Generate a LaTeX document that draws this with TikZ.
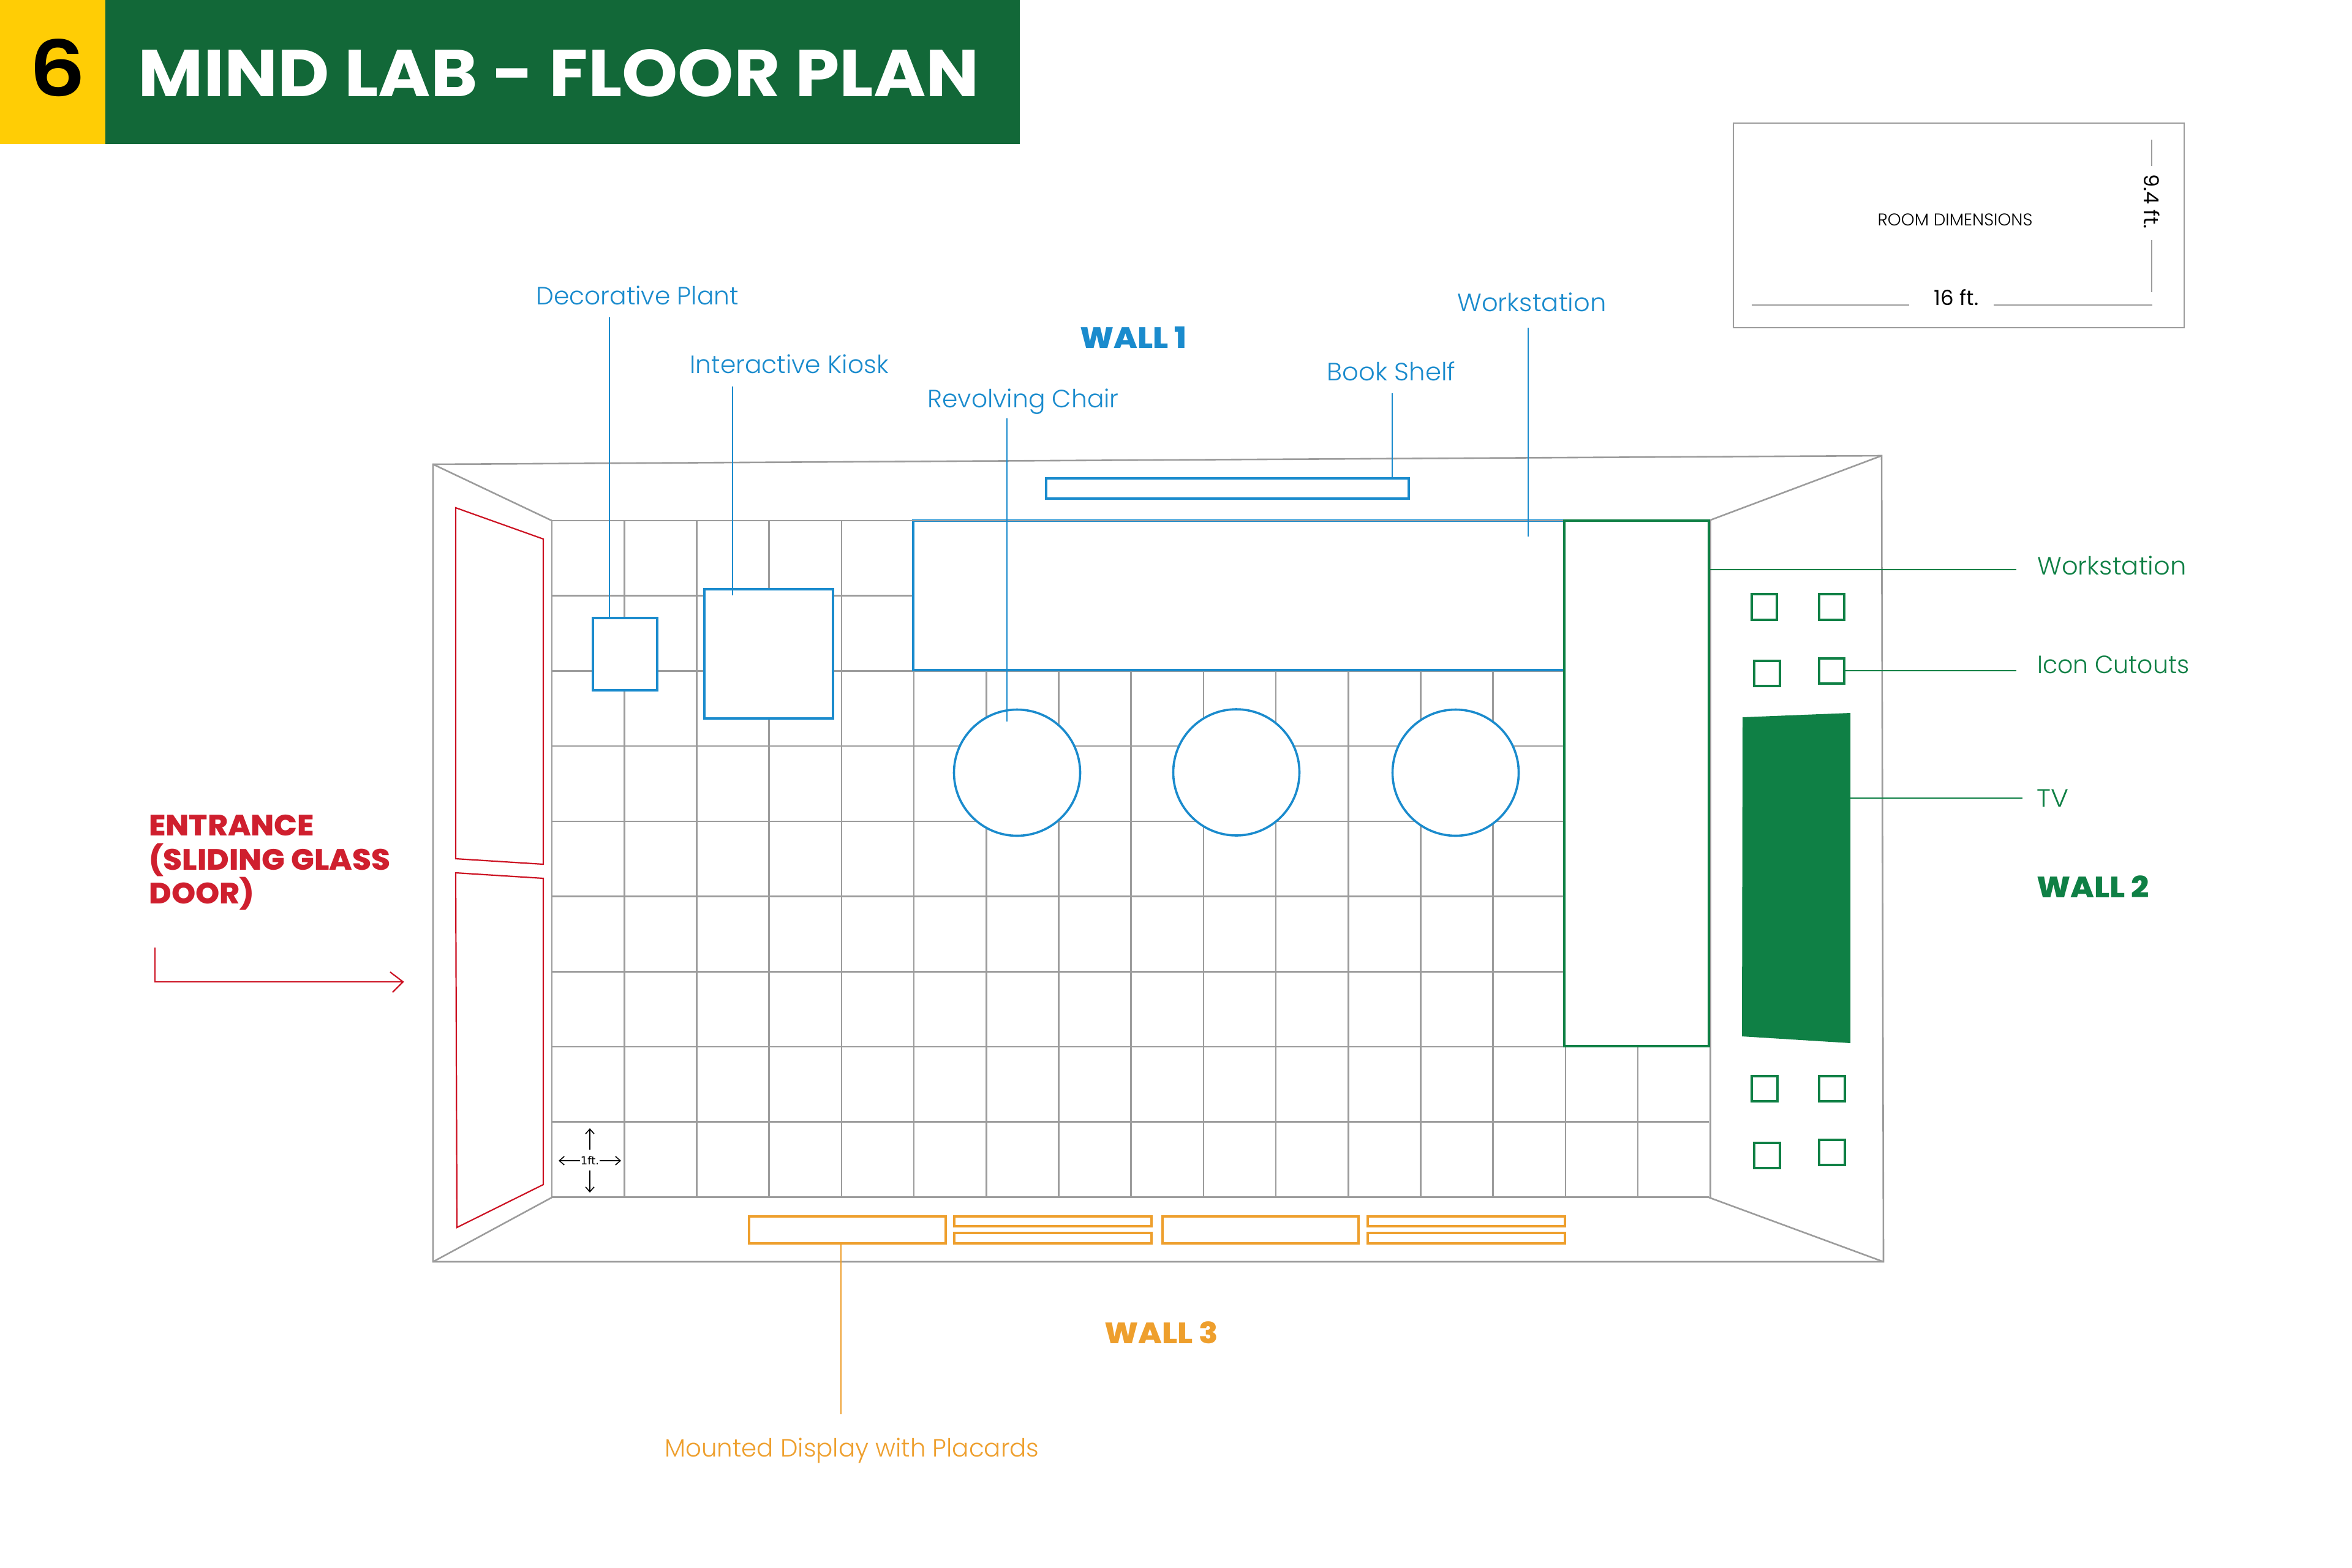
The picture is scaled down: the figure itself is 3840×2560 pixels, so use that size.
\documentclass[tikz,border=0pt]{standalone}
\usepackage{fontspec}
\setmainfont{Poppins}
\newfontfamily\lblfont{Poppins Light}
\newfontfamily\headfont{Poppins}[UprightFont=*-Bold]
\newfontfamily\wallfont{Poppins ExtraBold}
\newfontfamily\sixfont{Poppins SemiBold}
\newfontfamily\tinyfont{DejaVu Sans}
\usetikzlibrary{arrows.meta}
\definecolor{hgreen}{HTML}{126838}
\definecolor{hyellow}{HTML}{FFCD05}
\definecolor{pblue}{HTML}{1A8BCD}
\definecolor{pgreen}{HTML}{0F8045}
\definecolor{porange}{HTML}{EE9F2D}
\definecolor{pred}{HTML}{CF1F2E}
\definecolor{doorred}{HTML}{CC1122}
\definecolor{pgrey}{HTML}{9C9C9C}
\tikzset{
  room/.style={draw=pgrey,line width=1.3pt,line join=miter},
  gridln/.style={draw=pgrey,line width=1.3pt},
  bluebox/.style={draw=pblue,line width=1.9pt,fill=white},
  bluelead/.style={draw=pblue,line width=0.7pt},
  greenbox/.style={draw=pgreen,line width=1.9pt,fill=white},
  greenlead/.style={draw=pgreen,line width=0.8pt},
  orangebox/.style={draw=porange,line width=1.9pt,fill=white},
  orangelead/.style={draw=porange,line width=0.7pt},
  doorbox/.style={draw=doorred,line width=1.1pt},
  chairnode/.style={circle,draw=pblue,line width=1.8pt,fill=white,minimum size=103pt,inner sep=0pt},
  lbl/.style={inner sep=0pt,anchor=base west,font=\lblfont\fontsize{20.4}{20.4}\selectfont},
  wallbl/.style={inner sep=0pt,anchor=base west,font=\wallfont\fontsize{24}{24}\selectfont,xscale=1.07},
  entlbl/.style={inner sep=0pt,anchor=base west,font=\wallfont\fontsize{24}{24}\selectfont,xscale=1.04},
  dimtxt/.style={inner sep=0pt,anchor=base,text=black},
  onearrow/.style={draw=black,line width=0.8pt,-{Straight Barb[length=4pt,width=7pt]}}
}
\begin{document}
\begin{tikzpicture}[x=0.5pt,y=-0.5pt]
\useasboundingbox[fill=white] (0,0) rectangle (3840,2560);
% header
\fill[hyellow] (0,0) rectangle (172,235);
\fill[hgreen] (172,0) rectangle (1665,235);
\node[inner sep=0pt,anchor=base,font=\sixfont\fontsize{63}{63}\selectfont,text=black,xscale=1.15] (six) at (94,157) {6};
\node[inner sep=0pt,anchor=base west,font=\headfont\fontsize{54}{54}\selectfont,text=white,xscale=1.075] (title) at (225,157) {MIND LAB - FLOOR PLAN};
% dimensions box
\draw[room] (2830,201) rectangle (3566,535);
\draw[room] (3513,228) -- (3513,271) (3513,392) -- (3513,477);
\draw[room] (2860,498) -- (3117,498) (3255,498) -- (3514,498);
\node[dimtxt,font=\lblfont\fontsize{13.9}{13.9}\selectfont] (roomdim) at (3192,368) {ROOM DIMENSIONS};
\node[dimtxt,font=\fontsize{17}{17}\selectfont] (sixteen) at (3194,498) {16 ft.};
\node[inner sep=0pt,anchor=base,rotate=-90,font=\fontsize{16.8}{16.8}\selectfont] (ninefour) at (3500,329) {9.4 ft.};
% room shell
\draw[room] (707,758) -- (3072,744) -- (3075,2060) -- (707,2060) -- cycle;
\draw[room] (707,758) -- (901,850) (3072,744) -- (2790,850) (3075,2060) -- (2790,1955) (707,2060) -- (901,1955);
% grid
\foreach \k in {0,...,16}{\draw[gridln] ({901+118.2*\k},850) -- ({901+118.2*\k},1955);}
\foreach \k in {0,...,9}{\draw[gridln] (901,{850+122.7*\k}) -- (2790,{850+122.7*\k});}
% doors
\draw[doorbox] (744,829) -- (887,880) -- (887,1411) -- (744,1402) -- cycle;
\draw[doorbox] (744,1425) -- (887,1434) -- (887,1934) -- (746,2004) -- cycle;
% wall 1 items
\draw[bluebox] (1491,850) rectangle (2554,1094);
\draw[bluebox] (1708,781) rectangle (2300,814);
\draw[bluebox] (968,1009) rectangle (1073,1127);
\draw[bluebox] (1150,962) rectangle (1360,1173);
\node[chairnode] (c1) at (1660.5,1261.5) {};
\node[chairnode] (c2) at (2018.5,1261) {};
\node[chairnode] (c3) at (2376.5,1261.5) {};
\draw[room] (901,850) -- (2554,850);
% wall 2 items
\draw[greenbox] (2554,850) rectangle (2790,1708);
\draw[greenbox] (2860,970) rectangle (2901,1012);
\draw[greenbox] (2970,970) rectangle (3011,1012);
\draw[greenbox] (2864,1079) rectangle (2906,1120);
\draw[greenbox] (2970,1075) rectangle (3011,1116);
\draw[greenbox] (2860,1757) rectangle (2902,1798);
\draw[greenbox] (2970,1757) rectangle (3012,1798);
\draw[greenbox] (2864,1866) rectangle (2906,1907);
\draw[greenbox] (2970,1861) rectangle (3012,1902);
\fill[pgreen] (2845,1171) -- (3021,1164) -- (3021,1703) -- (2844,1692) -- cycle;
% wall 3 items
\draw[orangebox] (1223,1986) rectangle (1544,2030);
\draw[orangebox] (1558,1986) rectangle (1880,2002);
\draw[orangebox] (1558,2013) rectangle (1880,2030);
\draw[orangebox] (1898,1986) rectangle (2218,2030);
\draw[orangebox] (2233,1986) rectangle (2555,2002);
\draw[orangebox] (2233,2013) rectangle (2555,2030);
% labels
\node[lbl,text=pblue] (plant) at (875,497) {Decorative Plant};
\node[lbl,text=pblue] (kiosk) at (1126,609) {Interactive Kiosk};
\node[lbl,text=pblue] (chair) at (1514,665) {Revolving Chair};
\node[lbl,text=pblue,xscale=1.025] (shelf) at (2166,621) {Book Shelf};
\node[lbl,text=pblue,xscale=1.02] (ws1) at (2379,508) {Workstation};
\node[wallbl,text=pblue] (wall1) at (1763,568) {WALL 1};
\node[lbl,text=pgreen,xscale=1.02] (ws2) at (3326,938) {Workstation};
\node[lbl,text=pgreen,xscale=0.965] (icons) at (3326,1099) {Icon Cutouts};
\node[lbl,text=pgreen,xscale=1.08] (tv) at (3325,1317) {TV};
\node[wallbl,text=pgreen] (wall2) at (3325,1465) {WALL 2};
\node[wallbl,text=porange] (wall3) at (1803,2193) {WALL 3};
\node[lbl,text=porange,xscale=0.99] (mount) at (1085,2378) {Mounted Display with Placards};
\node[entlbl,text=pred] (ent1) at (243,1364) {ENTRANCE};
\node[entlbl,text=pred] (ent2) at (243,1420) {(SLIDING GLASS};
\node[entlbl,text=pred] (ent3) at (243,1475) {DOOR)};
% leaders
\coordinate (a1) at (995,518); \coordinate (a2) at (995,1009);
\coordinate (b1) at (1196,631); \coordinate (b2) at (1196,972);
\coordinate (d1) at (1644,683); \coordinate (d2) at (1644,1178);
\coordinate (e1) at (2273,642); \coordinate (e2) at (2273,781);
\coordinate (f1) at (2495,535); \coordinate (f2) at (2495,876);
\coordinate (g1) at (2792,930); \coordinate (g2) at (3292,930);
\coordinate (h1) at (3011,1095); \coordinate (h2) at (3292,1095);
\coordinate (i1) at (3021,1303); \coordinate (i2) at (3302,1303);
\coordinate (j1) at (1373,2030); \coordinate (j2) at (1373,2309);
\draw[bluelead] (a1) -- (a2) (b1) -- (b2) (d1) -- (d2) (e1) -- (e2) (f1) -- (f2);
\draw[greenlead] (g1) -- (g2) (h1) -- (h2) (i1) -- (i2);
\draw[orangelead] (j1) -- (j2);
% entrance arrow
\coordinate (r1) at (253,1547); \coordinate (r2) at (253,1603); \coordinate (r3) at (658,1603);
\draw[doorbox] (r1) -- (r2) -- (r3);
\draw[doorbox] (637,1587) -- (r3) -- (641,1620);
% 1ft marker
\node[inner sep=0pt,font=\tinyfont\fontsize{9}{9}\selectfont] (oneft) at (963,1895) {1ft.};
\draw[onearrow] (963,1877) -- (963,1842);
\draw[onearrow] (963,1911) -- (963,1947);
\draw[onearrow] (947,1895) -- (912,1895);
\draw[onearrow] (979,1895) -- (1014,1895);
\end{tikzpicture}
\end{document}
